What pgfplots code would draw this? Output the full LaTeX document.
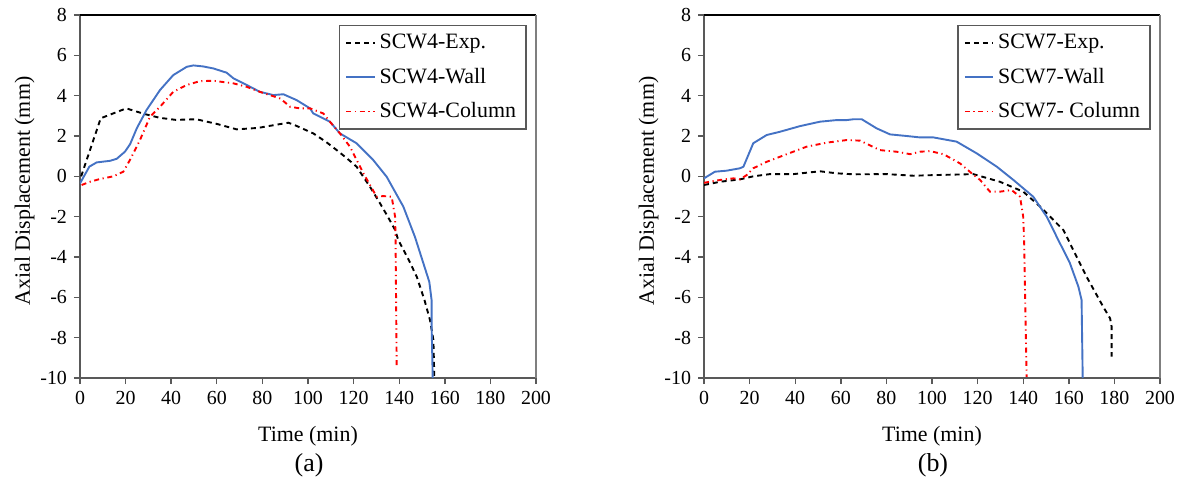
\documentclass[border=0pt]{standalone}
\usepackage{fontspec}
\setmainfont{Liberation Serif}
\usepackage{pgfplots}
\pgfplotsset{compat=1.18}
\definecolor{wallblue}{HTML}{4472C4}
\definecolor{axgray}{HTML}{595959}
\definecolor{bordgray}{HTML}{7F7F7F}

\pgfplotsset{myax/.style={
  scale only axis, width=228bp, height=181.5bp,
  xmin=0, xmax=200, ymin=-10, ymax=8,
  xtick={0,20,...,200}, ytick={-10,-8,...,8},
  axis x line*=bottom, axis y line*=left,
  axis line style={axgray, line width=0.8bp, -},
  tick align=outside, major tick length=3bp,
  tick style={axgray, line width=0.7bp},
  /pgf/number format/assume math mode=true,
  ticklabel style={font=\fontsize{10}{12}\selectfont, text=black},
  label style={font=\fontsize{11}{13}\selectfont},
  xlabel={Time (min)}, ylabel={Axial Displacement (mm)},
  xlabel style={at={(axis description cs:0.5,-0.175)}, anchor=base},
  ylabel style={at={(axis description cs:-0.11,0.515)}, anchor=base, rotate=0},
  legend cell align=left,
  legend style={at={(1,1)}, anchor=north east, xshift=-4.7bp, yshift=-5bp,
    draw=axgray, line width=0.6bp, font=\fontsize{11}{13}\selectfont,
    row sep=4.2bp, inner xsep=3bp, inner ysep=2.2bp},
  legend image code/.code={\draw[mark repeat=2,mark phase=2] plot coordinates {(0cm,0cm) (0.25cm,0cm) (0.5cm,0cm)};},
  expline/.style={black, line width=0.95bp, dash pattern=on 2.5bp off 2bp},
  wallline/.style={wallblue, line width=0.95bp},
  colline/.style={red, line width=0.95bp, dash pattern=on 2.5bp off 1.8bp on 0.6bp off 1.8bp},
  after end axis/.code={
    \draw[black, line width=0.6bp] (rel axis cs:0,1) -- (rel axis cs:1,1);
    \draw[bordgray, line width=0.6bp] (rel axis cs:1,0) -- (rel axis cs:1,1);
  },
}}

\begin{document}
\begin{tikzpicture}
\path[use as bounding box] (-40bp,-53bp) rectangle (552bp,189bp);
\begin{axis}[myax, at={(0bp,0bp)}, anchor=south west]
\addplot[expline] coordinates {(0.5,0.0) (9.1,2.88) (20.3,3.37) (28,3.1) (35,2.9) (42,2.8) (51,2.83) (60,2.6) (68.7,2.33) (78,2.4) (87.7,2.59) (91.4,2.66) (95,2.5) (102.3,2.13) (108,1.7) (112.6,1.3) (117,0.9) (121.3,0.48) (127.2,-0.52) (131.6,-1.34) (135,-2.0) (138.2,-2.66) (139.6,-3.16) (144,-4.1) (147.7,-4.98) (151,-6.1) (153.5,-7.12) (155,-8.12) (155.4,-9.94)};
\addlegendentry{SCW4-Exp.}
\addplot[wallline] coordinates {(0,-0.35) (4.1,0.48) (7.3,0.69) (13.2,0.77) (16.1,0.87) (19.7,1.22) (22,1.6) (24.9,2.38) (29.2,3.29) (35.1,4.28) (40.9,5.02) (46.8,5.43) (49.7,5.5) (54,5.45) (58.5,5.35) (64.3,5.14) (67.3,4.86) (73.1,4.53) (78.9,4.19) (84.8,4.03) (89.2,4.07) (95,3.78) (100.9,3.37) (102.3,3.12) (109.6,2.71) (114,2.13) (121.3,1.64) (128.6,0.81) (134.5,-0.02) (141.8,-1.5) (146.9,-3.0) (150.6,-4.31) (153.2,-5.23) (154.2,-6.13) (154.2,-7.29) (154.7,-10)};
\addlegendentry{SCW4-Wall}
\addplot[colline] coordinates {(0.7,-0.43) (4.4,-0.27) (8.8,-0.13) (14.6,0) (19,0.23) (21.9,0.81) (26.3,1.8) (30.7,2.95) (35.1,3.45) (40.9,4.19) (46.8,4.53) (52.6,4.72) (58.5,4.74) (67.3,4.61) (73.1,4.44) (78.9,4.19) (84,4.0) (88,3.85) (92.1,3.45) (96.5,3.37) (100.9,3.37) (106.7,3.12) (109.6,2.71) (114,2.13) (118.4,1.47) (124.3,0.15) (130.1,-1.01) (133,-0.98) (136.7,-1.01) (138.2,-2.0) (138.4,-3.16) (138.9,-9.44)};
\addlegendentry{SCW4-Column}
\end{axis}
\node[anchor=base, font=\fontsize{13}{15}\selectfont] at (114.5bp,-46.5bp) {(a)};

\begin{axis}[myax, at={(312bp,0bp)}, anchor=south west]
\addplot[expline] coordinates {(0,-0.43) (7,-0.27) (15.8,-0.15) (21.6,0) (28.9,0.11) (39.2,0.11) (50.9,0.25) (58.2,0.15) (65.5,0.1) (80.1,0.11) (91.8,0.03) (100.6,0.06) (118.1,0.11) (129.8,-0.27) (140,-0.76) (147.4,-1.5) (157.6,-2.66) (159.8,-3.16) (167.8,-4.98) (175.1,-6.47) (178.1,-7.04) (178.8,-7.46) (178.8,-8.94)};
\addlegendentry{SCW7-Exp.}
\addplot[wallline] coordinates {(0,-0.1) (4.8,0.23) (9.9,0.28) (15.8,0.4) (17.3,0.48) (21.6,1.64) (27.5,2.05) (33.3,2.21) (42.1,2.49) (50.9,2.71) (58.2,2.79) (62.6,2.79) (65.5,2.83) (69.2,2.83) (75.7,2.38) (81.6,2.08) (88.9,2.0) (94.7,1.93) (100.6,1.93) (110.8,1.72) (119.6,1.14) (128.4,0.48) (135.7,-0.18) (144.4,-1.01) (150.3,-2.0) (154.7,-3.0) (160.5,-4.31) (164.2,-5.47) (165.6,-6.13) (166.1,-10)};
\addlegendentry{SCW7-Wall}
\addplot[colline] coordinates {(0,-0.32) (7,-0.18) (12.9,-0.1) (15.8,-0.15) (18.7,0.06) (21.6,0.4) (27.5,0.72) (36.3,1.1) (45,1.47) (53.8,1.67) (62.6,1.8) (68.4,1.77) (77.2,1.3) (84.5,1.22) (90.4,1.1) (94.7,1.22) (99.1,1.25) (105,1.1) (112.3,0.64) (117.4,0.15) (121.1,-0.18) (125.4,-0.76) (129.8,-0.76) (134.9,-0.68) (138.6,-1.01) (140,-2.0) (140.4,-3.16) (141.5,-9.94)};
\addlegendentry{SCW7- Column}
\end{axis}
\node[anchor=base, font=\fontsize{13}{15}\selectfont] at (426.5bp,-46.5bp) {(b)};
\end{tikzpicture}
\end{document}
